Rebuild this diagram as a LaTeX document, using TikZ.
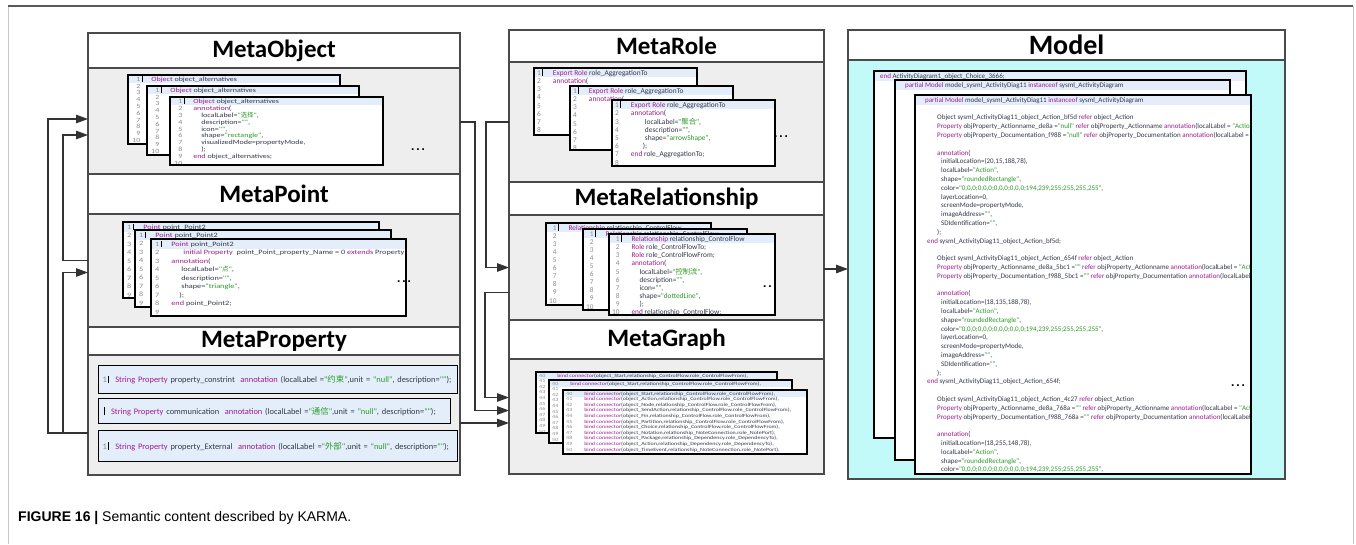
\documentclass[tikz,border=0pt]{standalone}
\usepackage{fontspec}
\usepackage{array}
\setmainfont{Liberation Sans}
\newfontfamily\titlefont{Carlito}
\newfontfamily\codefont{Carlito}
\newfontfamily\codewide[FakeStretch=1.25]{Carlito}
\newfontfamily\cjk{Noto Sans CJK SC}
\usetikzlibrary{arrows.meta}
\usetikzlibrary{positioning}

\definecolor{edgec}{HTML}{4A4A4A}
\definecolor{bodyc}{HTML}{EEEEEE}
\definecolor{modelc}{HTML}{C2FAFA}
\definecolor{hlc}{HTML}{E4EEFA}
\definecolor{kwc}{HTML}{9B1C8C}
\definecolor{strc}{HTML}{2A9A2A}
\definecolor{lnc}{HTML}{8C8C8C}
\definecolor{codec}{HTML}{33384A}

\newcolumntype{N}{>{\color{lnc}}r}
\newcommand\kw[1]{\textcolor{kwc}{#1}}
\newcommand\str[1]{\textcolor{strc}{#1}}
\newcommand\ind[1]{\hspace*{#1pt}}
\newcommand\cur{\rlap{\hspace{1.5pt}\textcolor{black}{\rule[-0.6pt]{0.8pt}{0.9em}}}}
% lines that a window in front hides
\newif\ifback
\newcommand\bk[1]{\ifback\else#1\fi}

\tikzset{
  hlh/.initial=8,
  head/.style={draw=edgec, line width=1.2pt, fill=white, anchor=north west, inner sep=0pt, outer sep=0pt,
    font=\titlefont\bfseries\fontsize{25}{28}\selectfont},
  body/.style={draw=edgec, line width=1.2pt, fill=bodyc, inner sep=0pt, outer sep=0pt},
  win/.style={anchor=north west, fill=white, inner sep=0pt, outer sep=0pt},
  winline/.style={draw=black, line width=1.4pt},
  code/.style={anchor=north west, inner sep=0pt, inner ysep=1pt, text=codec},
  codeObj/.style={hlh=6.8, font=\codewide\fontsize{6.4}{6.8}\selectfont},
  codePt/.style={hlh=8.5, font=\codewide\fontsize{6.6}{8.5}\selectfont},
  codeRole/.style={hlh=8.2, font=\codefont\fontsize{7.4}{8.2}\selectfont},
  codeRel/.style={hlh=8.1, font=\codefont\fontsize{7.3}{8.1}\selectfont},
  codeGraph/.style={hlh=5.6, font=\codewide\fontsize{4.8}{5.6}\selectfont},
  codeModel/.style={hlh=8.8, font=\codefont\fontsize{7}{8.8}\selectfont},
  propbox/.style={anchor=north west, draw=black, line width=1.4pt, fill=hlc, inner sep=0pt, inner xsep=4pt,
    align=left, text=codec, font=\codefont\fontsize{8.4}{9}\selectfont},
  dots/.style={inner sep=0pt, font=\bfseries\fontsize{12}{12}\selectfont},
  conn/.style={draw=black!80, line width=1.2pt, -{Triangle[length=12pt,width=8.5pt]}}
}

% one code window: name, NW corner, width, height, font style, text
\newcommand\codewin[6]{%
  \node[win, minimum width=#3, minimum height=#4] (#1) at (#2) {};
  \begin{scope}[#5]
    \clip (#1.south west) rectangle (#1.north east);
    \fill[hlc] (#1.north west) rectangle ([yshift=-\pgfkeysvalueof{/tikz/hlh}-1]#1.north east);
    \node[code] (#1t) at (#1.north west) {#6};
  \end{scope}
  \draw[winline] (#1.north west) rectangle (#1.south east);}

\newcommand\objcode{\begin{tabular}{@{\hspace{4pt}}N@{\hspace{11pt}}l@{}}
1\cur & \kw{Object} object\_alternatives\\
2 & \bk{\kw{annotation}(}\\
3 & \bk{\ind{8}localLabel=\str{"{\cjk 选择}"},}\\
4 & \bk{\ind{8}description=\str{""},}\\
5 & \bk{\ind{8}icon=\str{""},}\\
6 & \bk{\ind{8}shape=\str{"rectangle"},}\\
7 & \bk{\ind{8}visualizedMode=propertyMode,}\\
8 & \bk{\ind{8});}\\
9 & \bk{\kw{end} object\_alternatives;}\\
10 & \\
\end{tabular}}

\newcommand\ptcode{\begin{tabular}{@{\hspace{4pt}}N@{\hspace{12pt}}l@{}}
1\cur & \kw{Point} point\_Point2\\
2 & \bk{\ind{12}\kw{initial Property}\ \ point\_Point\_property\_Name = 0 \kw{extends} Property}\\
3 & \bk{\kw{annotation}(}\\
4 & \bk{\ind{10}localLabel=\str{"{\cjk 点}"},}\\
5 & \bk{\ind{10}description=\str{""},}\\
6 & \bk{\ind{10}shape=\str{"triangle"},}\\
7 & \bk{\ind{8});}\\
8 & \bk{\kw{end} point\_Point2;}\\
9 & \\
\end{tabular}}

\newcommand\rolecode{\begin{tabular}{@{\hspace{3pt}}N@{\hspace{12pt}}l@{}}
1\cur & \kw{Export Role} role\_AggregationTo\\
2 & \kw{annotation}(\\
3 & \bk{\ind{14}localLabel=\str{"{\cjk 聚合}"},}\\
4 & \bk{\ind{14}description=\str{""},}\\
5 & \bk{\ind{14}shape=\str{"arrowShape"},}\\
6 & \bk{\ind{12});}\\
7 & \bk{\kw{end} role\_AggregationTo;}\\
8 & \\
\end{tabular}}

\newcommand\relcode{\begin{tabular}{@{\hspace{3pt}}N@{\hspace{12pt}}l@{}}
1\cur & \kw{Relationship} relationship\_ControlFlow\\
2 & \bk{\kw{Role} role\_ControlFlowTo;}\\
3 & \bk{\kw{Role} role\_ControlFlowFrom;}\\
4 & \bk{\kw{annotation}(}\\
5 & \bk{\ind{8}localLabel=\str{"{\cjk 控制流}"},}\\
6 & \bk{\ind{8}description=\str{""},}\\
7 & \bk{\ind{8}icon=\str{""},}\\
8 & \bk{\ind{8}shape=\str{"dottedLine"},}\\
9 & \bk{\ind{8});}\\
10 & \bk{\kw{end} relationship\_ControlFlow;}\\
\end{tabular}}

\newcommand\graphcode{\begin{tabular}{@{\hspace{3pt}}N@{\hspace{8pt}}l@{}}
40 & \ind{4}\kw{bind connector}(object\_Start,relationship\_ControlFlow.role\_ControlFlowFrom),\\
41 & \bk{\ind{4}\kw{bind connector}(object\_Action,relationship\_ControlFlow.role\_ControlFlowFrom),}\\
42 & \bk{\ind{4}\kw{bind connector}(object\_Node,relationship\_ControlFlow.role\_ControlFlowFrom),}\\
43 & \bk{\ind{4}\kw{bind connector}(object\_SendAction,relationship\_ControlFlow.role\_ControlFlowFrom),}\\
44 & \bk{\ind{4}\kw{bind connector}(object\_Fin,relationship\_ControlFlow.role\_ControlFlowFrom),}\\
45 & \bk{\ind{4}\kw{bind connector}(object\_Partition,relationship\_ControlFlow.role\_ControlFlowFrom),}\\
46 & \bk{\ind{4}\kw{bind connector}(object\_Choice,relationship\_ControlFlow.role\_ControlFlowFrom),}\\
47 & \bk{\ind{4}\kw{bind connector}(object\_Notation,relationship\_NoteConnection.role\_NotePort),}\\
48 & \bk{\ind{4}\kw{bind connector}(object\_Package,relationship\_Dependency.role\_DependencyTo),}\\
49 & \bk{\ind{4}\kw{bind connector}(object\_Action,relationship\_Dependency.role\_DependencyTo),}\\
50 & \bk{\ind{4}\kw{bind connector}(object\_TimeEvent,relationship\_NoteConnection.role\_NotePort),}\\
\end{tabular}}

\newcommand\actionblock[4]{%
\bk{\ind{12}Object sysml\_ActivityDiag11\_object\_Action\_#1 \kw{refer} object\_Action}\\
\bk{\ind{12}\kw{Property} objProperty\_Actionname\_de8a#2 =\str{"#4"} \kw{refer} objProperty\_Actionname \kw{annotation}(localLabel = \str{"Action"})}\\
\bk{\ind{12}\kw{Property} objProperty\_Documentation\_f988#2 =\str{"#4"} \kw{refer} objProperty\_Documentation \kw{annotation}(localLabel = \str{"Documentation"})}\\
\\
\bk{\ind{12}\kw{annotation}(}\\
\bk{\ind{16}initialLocation=(#3),}\\
\bk{\ind{16}localLabel=\str{"Action"},}\\
\bk{\ind{16}shape=\str{"roundedRectangle"},}\\
\bk{\ind{16}color=\str{"0,0,0;0,0,0;0,0,0;0,0,0;194,239,255;255,255,255"},}\\
\bk{\ind{16}layerLocation=0,}\\
\bk{\ind{16}screenMode=propertyMode,}\\
\bk{\ind{16}imageAddress=\str{""},}\\
\bk{\ind{16}SDIdentification=\str{""},}\\
\bk{\ind{12});}\\
\bk{\ind{2}\kw{end} sysml\_ActivityDiag11\_object\_Action\_#1;}\\
\\}

\newcommand\modelrows{%
\kw{partial Model} model\_sysml\_ActivityDiag11 \kw{instanceof} sysml\_ActivityDiagram\\
\\
\actionblock{bf5d}{}{20,15,188,78}{null}%
\actionblock{654f}{\_5bc1}{18,135,188,78}{}%
\actionblock{4c27}{\_768a}{18,255,148,78}{}}

\newcommand\modelcode{\begin{tabular}{@{\hspace{10pt}}l@{}}\modelrows\end{tabular}}
\newcommand\modelback{\begin{tabular}{@{\hspace{6pt}}l@{}}
\kw{end} ActivityDiagram1\_object\_Choice\_3666;\\
\end{tabular}}

\begin{document}
\begin{tikzpicture}[x=1pt,y=-1pt]
\useasboundingbox (0,0) rectangle (1356,544);
\draw[gray!45, line width=0.6pt] (8,6) -- (8,544) (1353,6) -- (1353,544);
\draw[gray!70!black, line width=1.6pt] (8,6) -- (1353,6);

% left column
\node[head, minimum width=372, minimum height=35] (objHead) at (88,33) {MetaObject};
\node[body, minimum width=372, minimum height=106, below=0pt of objHead] (objBody) {};
\node[head, minimum width=372, minimum height=40, below=0pt of objBody] (ptHead) {MetaPoint};
\node[body, minimum width=372, minimum height=113, below=0pt of ptHead] (ptBody) {};
\node[head, minimum width=372, minimum height=28, below=0pt of ptBody] (propHead) {MetaProperty};
\node[body, minimum width=372, minimum height=120, below=0pt of propHead] (propBody) {};

% middle column
\node[head, minimum width=315, minimum height=32] (roleHead) at (509,30) {MetaRole};
\node[body, minimum width=315, minimum height=120, below=0pt of roleHead] (roleBody) {};
\node[head, minimum width=315, minimum height=33, below=0pt of roleBody] (relHead) {MetaRelationship};
\node[body, minimum width=315, minimum height=105, below=0pt of relHead] (relBody) {};
\node[head, minimum width=315, minimum height=39, below=0pt of relBody] (graphHead) {MetaGraph};
\node[body, minimum width=315, minimum height=115, below=0pt of graphHead] (graphBody) {};

% model
\node[head, minimum width=437, minimum height=30, font=\titlefont\bfseries\fontsize{28}{30}\selectfont] (modelHead) at (848,30) {Model};
\node[body, fill=modelc, minimum width=437, minimum height=419, below=0pt of modelHead] (modelBody) {};

% code windows
\codewin{objW1}{128,75}{212}{69}{codeObj}{\backtrue\objcode}
\codewin{objW2}{147,86}{212}{69}{codeObj}{\backtrue\objcode}
\codewin{objW3}{170,97}{213}{68}{codeObj}{\objcode}
\node[dots] (objDots) at (418,150) {.\,.\,.};

\codewin{ptW1}{123,222}{256}{76}{codePt}{\backtrue\ptcode}
\codewin{ptW2}{135,230}{256}{77}{codePt}{\backtrue\ptcode}
\codewin{ptW3}{151,239}{255}{77}{codePt}{\ptcode}
\node[dots] (ptDots) at (404,282) {.\,.\,.};

\node[propbox, text width=351, minimum height=28] (prop1) at (98,365)
  {\textcolor{lnc}{1}\cur\ \ \ \kw{String Property} property\_constrint\ \ \kw{annotation} (localLabel =\str{"{\cjk 约束}"},unit = \str{"null"}, description=\str{""});};
\node[propbox, text width=344, minimum height=25] (prop2) at (98,398)
  {\cur\ \ \ \kw{String Property} communication\ \ \kw{annotation} (localLabel =\str{"{\cjk 通信}"},unit = \str{"null"}, description=\str{""});};
\node[propbox, text width=351, minimum height=31] (prop3) at (98,430)
  {\textcolor{lnc}{1}\cur\ \ \ \kw{String Property} property\_External\ \ \kw{annotation} (localLabel =\str{"{\cjk 外部}"},unit = \str{"null"}, description=\str{""});};

\codewin{roleW1}{534,68}{163}{67}{codeRole}{\backtrue\rolecode}
\codewin{roleW2}{570,86}{163}{64}{codeRole}{\backtrue\rolecode}
\codewin{roleW3}{612,100}{163}{66}{codeRole}{\rolecode}
\node[dots] (roleDots) at (781,137) {.\,.\,.};

\codewin{relW1}{546,223}{165}{82}{codeRel}{\backtrue\relcode}
\codewin{relW2}{583,229}{164}{81}{codeRel}{\backtrue\relcode}
\codewin{relW3}{609,234}{166}{81}{codeRel}{\relcode}
\node[dots] (relDots) at (770,287) {.\,.\,.};

\codewin{graphW1}{536,372}{241}{61}{codeGraph}{\backtrue\graphcode}
\codewin{graphW2}{549,380}{243}{63}{codeGraph}{\backtrue\graphcode}
\codewin{graphW3}{563,390}{244}{64}{codeGraph}{\graphcode}

\codewin{modelW1}{874,71}{372}{367}{codeModel}{\modelback}
\codewin{modelW2}{895,80}{335}{380}{codeModel}{\backtrue\modelcode}
\codewin{modelW3}{915,95}{336}{379}{codeModel}{\modelcode}
\node[dots] (modelDots) at (1238,386) {.\,.\,.};

% connectors
\draw[conn] ([yshift=-18]propBody.west) -- ++(-40,0) |- ([yshift=2]objBody.west);
\draw[conn] ([yshift=10]ptBody.west) -- ++(-25,0) |- ([yshift=-14]objBody.west);
\draw[conn] ([yshift=-18]propBody.west) -- ++(-25,0) |- ([yshift=-2]ptBody.west);
\draw[conn] ([yshift=-1]objBody.east) -- ++(15,0) |- ([yshift=6]graphBody.west);
\draw[conn] (roleBody.west) -- ++(-23,0) |- (relBody.west);
\draw[conn] ([yshift=-25]relBody.west) -- ++(-24,0) |- ([yshift=19]graphBody.west);
\draw[conn] ([yshift=-8]propBody.east) -- ([yshift=-8]propBody.east -| graphBody.west);
\draw[conn] ([yshift=-1.5]relBody.east) -- ([yshift=-1.5]relBody.east -| modelBody.west);

\node[anchor=base west, inner sep=0pt, font=\fontsize{14}{16}\selectfont] (caption) at (18,521)
  {\textbf{FIGURE 16 |} Semantic content described by KARMA.};
\end{tikzpicture}
\end{document}
